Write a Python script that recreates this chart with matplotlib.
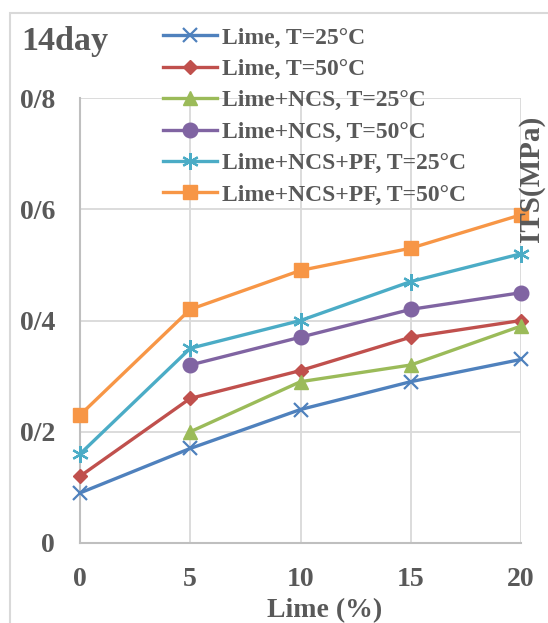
import matplotlib.pyplot as plt
from matplotlib.patches import Rectangle
from matplotlib.ticker import FixedLocator, FuncFormatter
import numpy as np

# data
lime_pct = [0, 5, 10, 15, 20]
lime_25 = [0.09, 0.17, 0.24, 0.29, 0.33]
lime_50 = [0.12, 0.26, 0.31, 0.37, 0.40]
ncs_25 = [np.nan, 0.20, 0.29, 0.32, 0.39]
ncs_50 = [np.nan, 0.32, 0.37, 0.42, 0.45]
pf_25 = [0.16, 0.35, 0.40, 0.47, 0.52]
pf_50 = [0.23, 0.42, 0.49, 0.53, 0.59]

labels = ['Lime, T=25°C', 'Lime, T=50°C', 'Lime+NCS, T=25°C',
          'Lime+NCS, T=50°C', 'Lime+NCS+PF, T=25°C', 'Lime+NCS+PF, T=50°C']
series = [lime_25, lime_50, ncs_25, ncs_50, pf_25, pf_50]
colors = ['#4F81BD', '#C0504D', '#9BBB59', '#8064A2', '#4BACC6', '#F79646']
markers = ['x', 'D', '^', 'o', (6, 2, 0), 's']
msizes = [10, 7.5, 9.5, 10.5, 12, 9.5]

txt = '#595959'
plt.rcParams['font.family'] = 'Liberation Serif'
plt.rcParams['font.weight'] = 'bold'

fig = plt.figure(figsize=(5.48, 6.23), dpi=100)
ax = fig.add_axes([80/548, 1-543/623, 441/548, 445/623])

for ys, lab, c, m, ms in zip(series, labels, colors, markers, msizes):
    ax.plot(lime_pct, ys, color=c, lw=2.4, marker=m, markersize=ms,
            markeredgewidth=1.6 if m in ('x', (6, 2, 0)) else 1,
            markerfacecolor=c, markeredgecolor=c, label=lab, clip_on=False, zorder=3)

ax.set_xlim(0, 20)
ax.set_ylim(0, 0.8)
ax.xaxis.set_major_locator(FixedLocator([0, 5, 10, 15, 20]))
ax.yaxis.set_major_locator(FixedLocator([0, 0.2, 0.4, 0.6, 0.8]))
ax.yaxis.set_major_formatter(FuncFormatter(lambda v, p: '0' if v == 0 else ('%.1f' % v).replace('.', '/')))
ax.grid(True, color='#d9d9d9', lw=1.3)
ax.set_axisbelow(True)
for s in ['top', 'right']:
    ax.spines[s].set_visible(False)
for s in ['left', 'bottom']:
    ax.spines[s].set_color('#bfbfbf')
    ax.spines[s].set_linewidth(1.5)
ax.tick_params(axis='both', length=0, labelsize=20, labelcolor=txt)
ax.tick_params(axis='x', pad=17)
ax.tick_params(axis='y', pad=18)

leg = ax.legend(loc='upper left', bbox_to_anchor=(163/548, 1-27/623),
                bbox_transform=fig.transFigure, frameon=False, fontsize=17,
                borderpad=0, borderaxespad=0, labelspacing=0.42,
                handlelength=2.3, handletextpad=0.2)
for t in leg.get_texts():
    t.set_color(txt)

fig.text(21/548, 1-50/623, '14day', fontsize=24.5, color=txt, va='baseline')
fig.text(532/548, 1-179/623, 'ITS(MPa)', fontsize=21, color=txt,
         rotation=90, ha='center', va='center')
fig.text(325/548, 6/623, 'Lime (%)', fontsize=20, color=txt,
         ha='center', va='baseline')

fig.patches.append(Rectangle((10/548, -0.1), 1.0, 1-13/623+0.1,
                             transform=fig.transFigure, fill=False,
                             edgecolor='#d9d9d9', lw=1.5))

fig.savefig('out.png', dpi=100)
